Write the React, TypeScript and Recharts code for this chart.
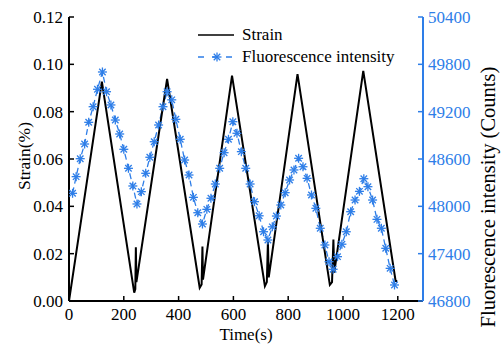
import React from 'react';
import { LineChart, Line, XAxis, YAxis } from 'recharts';

const BLUE = '#2e7ee8';
const FONT = '"Liberation Serif", "Times New Roman", serif';

// strain curve (time s, strain %)
const strainTime = [0, 120, 238, 242, 244, 246, 358, 477, 484, 487, 489, 595, 715, 722, 726, 729, 834, 952, 960, 965, 968, 1074, 1192, 1198];
const strainValue = [0, 0.0927, 0.0035, 0.005, 0.0227, 0.008, 0.0938, 0.0056, 0.007, 0.023, 0.009, 0.0952, 0.0063, 0.008, 0.025, 0.01, 0.0959, 0.0068, 0.008, 0.026, 0.012, 0.0972, 0.0085, 0.0085];

// fluorescence samples (time s, counts)
const fluoTime = [13, 26, 41, 57, 72, 88, 104, 122, 137, 153, 169, 185, 200, 217, 233, 248, 264, 280, 295, 311, 327, 343, 358, 375, 390, 406, 422, 438, 454, 470, 487, 503, 518, 534, 550, 566, 582, 598, 613, 629, 645, 661, 677, 694, 710, 726, 742, 757, 773, 789, 805, 821, 838, 854, 869, 885, 901, 917, 934, 949, 964, 980, 996, 1012, 1028, 1044, 1060, 1076, 1091, 1108, 1124, 1140, 1156, 1172, 1188];
const fluoValue = [48165, 48376, 48604, 48790, 49065, 49263, 49484, 49703, 49453, 49285, 49094, 48917, 48723, 48482, 48258, 48030, 48186, 48419, 48622, 48819, 49031, 49263, 49453, 49350, 49103, 48850, 48587, 48397, 48114, 47919, 47776, 47962, 48102, 48283, 48482, 48680, 48850, 49073, 48926, 48693, 48482, 48283, 48059, 47880, 47678, 47573, 47740, 47877, 48017, 48173, 48334, 48461, 48609, 48502, 48355, 48144, 47975, 47722, 47510, 47298, 47202, 47362, 47520, 47678, 47932, 48080, 48190, 48350, 48249, 48080, 47835, 47722, 47468, 47214, 47003];

const xTicks = [0, 200, 400, 600, 800, 1000, 1200];
const strainTicks = [0, 0.02, 0.04, 0.06, 0.08, 0.1, 0.12];
const countTicks = [46800, 47400, 48000, 48600, 49200, 49800, 50400];

const strainData = strainTime.map((t, i) => ({ t, strain: strainValue[i] }));
const fluoData = fluoTime.map((t, i) => ({ t, fluo: fluoValue[i] }));

function Star({ cx, cy, r = 4.5, color = BLUE }: { cx: number; cy: number; r?: number; color?: string }) {
  const d = r * 0.72;
  return (
    <g stroke={color} strokeWidth={1.3}>
      <line x1={cx - r} y1={cy} x2={cx + r} y2={cy} />
      <line x1={cx} y1={cy - r} x2={cx} y2={cy + r} />
      <line x1={cx - d} y1={cy - d} x2={cx + d} y2={cy + d} />
      <line x1={cx - d} y1={cy + d} x2={cx + d} y2={cy - d} />
    </g>
  );
}

function renderStar(props: any) {
  const { cx, cy, index } = props;
  if (cx == null || cy == null) return <g key={`s-${index}`} />;
  return <Star key={`s-${index}`} cx={cx} cy={cy} />;
}

function ChartLegend() {
  return (
    <div style={{ fontFamily: FONT, fontSize: 17, color: '#000', lineHeight: '22px' }}>
      <div style={{ display: 'flex', alignItems: 'center' }}>
        <svg width={46} height={22}>
          <line x1={2} y1={11} x2={38} y2={11} stroke="#000" strokeWidth={1.6} />
        </svg>
        <span>Strain</span>
      </div>
      <div style={{ display: 'flex', alignItems: 'center' }}>
        <svg width={46} height={22}>
          <line x1={2} y1={11} x2={38} y2={11} stroke={BLUE} strokeWidth={1.3} strokeDasharray="6 8" />
          <Star cx={21} cy={11} r={4.5} />
        </svg>
        <span>Fluorescence intensity</span>
      </div>
    </div>
  );
}

const tickStyle = { fontSize: 17, fontFamily: FONT, fill: '#000' };

export default function App() {
  return (
    <div style={{ position: 'absolute', left: 0, top: 0, width: 502, height: 345, background: '#fff' }}>
      <LineChart width={502} height={345} margin={{ top: 17, right: 0, bottom: 0, left: 0 }} style={{ fontFamily: FONT }}>
        <XAxis
          dataKey="t"
          type="number"
          domain={[0, 1292]}
          ticks={xTicks}
          allowDataOverflow
          height={44}
          tickSize={-5}
          tickMargin={12}
          tick={tickStyle}
          stroke="#000"
          axisLine={{ stroke: '#000', strokeWidth: 2 }}
          tickLine={{ stroke: '#000', strokeWidth: 1.5 }}
          label={{ value: 'Time(s)', position: 'insideBottom', offset: 5, style: { fontSize: 17, fontFamily: FONT, fill: '#000' } }}
        />
        <XAxis
          xAxisId="top"
          orientation="top"
          type="number"
          domain={[0, 1292]}
          height={0}
          tick={false}
          tickLine={false}
          axisLine={{ stroke: '#000', strokeWidth: 2 }}
        />
        <YAxis
          yAxisId="left"
          domain={[0, 0.12]}
          ticks={strainTicks}
          width={69}
          tickSize={-5}
          tickMargin={11}
          tickFormatter={(v: number) => v.toFixed(2)}
          tick={tickStyle}
          axisLine={{ stroke: '#000', strokeWidth: 2 }}
          tickLine={{ stroke: '#000', strokeWidth: 1.5 }}
          label={{
            content: () => (
              <text x={24} y={156} transform="rotate(-90 24 156)" textAnchor="middle" dominantBaseline="central" fontSize={17.5} fontFamily={FONT} fill="#000">
                Strain(%)
              </text>
            ),
          }}
        />
        <YAxis
          yAxisId="right"
          orientation="right"
          domain={[46800, 50400]}
          ticks={countTicks}
          width={79}
          tickSize={-5}
          tickMargin={10}
          tick={{ ...tickStyle, fill: BLUE }}
          axisLine={{ stroke: BLUE, strokeWidth: 2 }}
          tickLine={{ stroke: BLUE, strokeWidth: 1.5 }}
          label={{
            content: () => (
              <text x={488} y={197} transform="rotate(-90 488 197)" textAnchor="middle" dominantBaseline="central" fontSize={20.5} fontFamily={FONT} fill="#000">
                Fluorescence intensity (Counts)
              </text>
            ),
          }}
        />
        <Line
          yAxisId="right"
          data={fluoData}
          dataKey="fluo"
          type="linear"
          stroke={BLUE}
          strokeWidth={1.3}
          strokeDasharray="6 4"
          dot={renderStar}
          activeDot={false}
          isAnimationActive={false}
        />
        <Line
          yAxisId="left"
          data={strainData}
          dataKey="strain"
          type="linear"
          stroke="#000"
          strokeWidth={2}
          dot={false}
          activeDot={false}
          isAnimationActive={false}
        />
      </LineChart>
      <div style={{ position: 'absolute', left: 196, top: 24 }}>
        <ChartLegend />
      </div>
    </div>
  );
}
